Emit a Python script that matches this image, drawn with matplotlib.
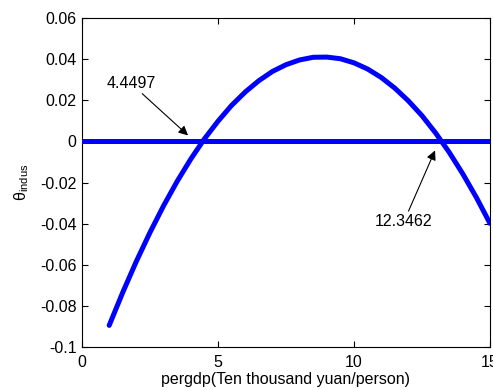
import matplotlib
matplotlib.use("Agg")
import matplotlib.pyplot as plt
import numpy as np

plt.rcParams['font.family'] = ['Liberation Sans', 'DejaVu Sans']
plt.rcParams['mathtext.fontset'] = 'custom'
plt.rcParams['mathtext.rm'] = 'Liberation Sans'
plt.rcParams['mathtext.it'] = 'Liberation Sans:italic'

# Data
pergdp = [1, 1.5, 2, 2.5, 3, 3.5, 4, 4.5, 5, 5.5, 6, 6.5, 7, 7.5, 8, 8.5,
          9, 9.5, 10, 10.5, 11, 11.5, 12, 12.5, 13, 13.5, 14, 14.5, 15]
theta = [-0.0895, -0.0734, -0.0583, -0.0443, -0.0313, -0.0194, -0.0086, 0.0012,
         0.0098, 0.0175, 0.0240, 0.0295, 0.0340, 0.0373, 0.0396, 0.0409,
         0.0410, 0.0402, 0.0382, 0.0352, 0.0311, 0.0259, 0.0197, 0.0125,
         0.0041, -0.0053, -0.0158, -0.0273, -0.0399]
zero_x = [0, 15]
zero_y = [0, 0]
root1_label = "4.4497"
root2_label = "12.3462"
xticks = [0, 5, 10, 15]
xticklabels = ["0", "5", "10", "15"]
yticks = [-0.1, -0.08, -0.06, -0.04, -0.02, 0, 0.02, 0.04, 0.06]
yticklabels = ["-0.1", "-0.08", "-0.06", "-0.04", "-0.02", "0", "0.02", "0.04", "0.06"]

FS = 11.5

fig = plt.figure(figsize=(4.93, 3.90), dpi=100)
ax = fig.add_axes([0.1663, 0.1103, 0.8276, 0.8435])

ax.plot(zero_x, zero_y, color='#0000ff', lw=3.6, solid_capstyle='round', zorder=3)
ax.plot(pergdp, theta, color='#0000ff', lw=3.6, solid_capstyle='round', zorder=3)

ax.set_xlim(0, 15)
ax.set_ylim(-0.1, 0.06)
ax.set_xticks(xticks)
ax.set_xticklabels(xticklabels)
ax.set_yticks(yticks)
ax.set_yticklabels(yticklabels)
ax.tick_params(direction='in', top=True, right=True, labelsize=FS, length=4, width=0.8)
ax.tick_params(axis='x', pad=6)
ax.tick_params(axis='y', pad=4)
for s in ax.spines.values():
    s.set_linewidth(0.8)

ax.set_xlabel("pergdp(Ten thousand yuan/person)", fontsize=FS, labelpad=1)
ax.set_ylabel("θ$_{\\mathrm{indus}}$", fontsize=FS, labelpad=6)

arrow = dict(arrowstyle='-|>', color='k', lw=0.8, mutation_scale=14, shrinkA=0, shrinkB=0)
ax.annotate(root1_label, xy=(3.90, 0.0029), xytext=(1.80, 0.0282),
            ha='center', va='center', fontsize=FS, arrowprops=arrow)
ax.annotate(root2_label, xy=(12.98, -0.0044), xytext=(11.84, -0.0389),
            ha='center', va='center', fontsize=FS, arrowprops=arrow)
fig.savefig("out.png", dpi=100)
